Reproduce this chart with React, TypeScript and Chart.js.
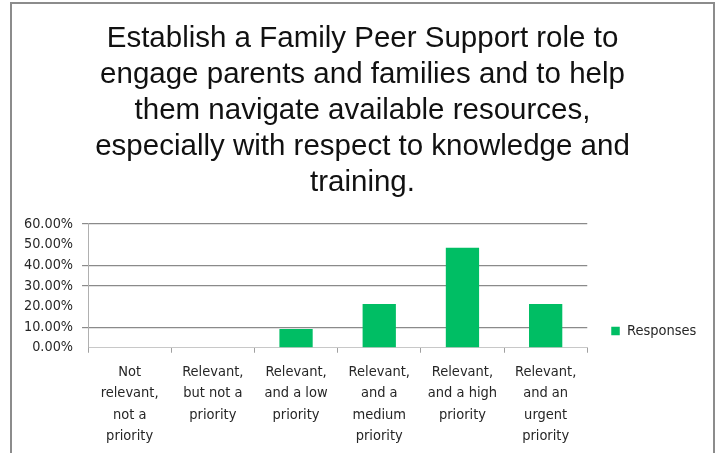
import React, { useEffect, useRef } from 'react';
import { Chart, registerables } from 'chart.js';

Chart.register(...registerables);

const titleLines = [
  'Establish a Family Peer Support role to',
  'engage parents and families and to help',
  'them navigate available resources,',
  'especially with respect to knowledge and',
  'training.',
];

const categories = [
  ['Not', 'relevant,', 'not a', 'priority'],
  ['Relevant,', 'but not a', 'priority'],
  ['Relevant,', 'and a low', 'priority'],
  ['Relevant,', 'and a', 'medium', 'priority'],
  ['Relevant,', 'and a high', 'priority'],
  ['Relevant,', 'and an', 'urgent', 'priority'],
];

const seriesName = 'Responses';
const responses = [0, 0, 9.09, 21.21, 48.48, 21.21];

const yMin = 0;
const yMax = 60;
const yStep = 10;
const hiddenGridValues = [0, 20, 50];

const FONT = "'DejaVu Sans Condensed', 'Liberation Sans Narrow', 'Liberation Sans', sans-serif";
const TITLE_FONT = "'Liberation Sans', Arial, sans-serif";
const GREEN = '#00BE64';
const GRID = '#8a8a8a';
const TEXT = '#262626';

const legendShift = {
  id: 'legendShift',
  afterLayout(chart: any, _args: any, opts: any) {
    const l = chart.legend;
    if (!l) return;
    const dx = opts?.dx || 0;
    const dy = opts?.dy || 0;
    l.left += dx;
    l.right += dx;
    l.top += dy;
    l.bottom += dy;
  },
};

export default function App() {
  const ref = useRef<HTMLCanvasElement | null>(null);

  useEffect(() => {
    if (!ref.current) return;
    const chart = new Chart(ref.current, {
      type: 'bar',
      data: {
        labels: categories,
        datasets: [
          {
            label: seriesName,
            data: responses,
            backgroundColor: GREEN,
            borderWidth: 0,
            categoryPercentage: 1,
            barPercentage: 0.4,
          },
        ],
      },
      plugins: [legendShift],
      options: {
        animation: false,
        responsive: false,
        maintainAspectRatio: false,
        layout: { padding: { left: 5, right: 5, top: 10, bottom: 2 } },
        plugins: {
          title: {
            display: true,
            text: titleLines,
            color: '#111',
            font: { family: TITLE_FONT, size: 29.5, weight: 'normal', lineHeight: 1.22 },
            padding: { top: 10.5, bottom: 23.5 },
          },
          legend: {
            display: true,
            position: 'right',
            align: 'end',
            fullSize: false,
            labels: {
              boxWidth: 8.5,
              boxHeight: 8.5,
              color: TEXT,
              font: { family: FONT, size: 14.5 },
              padding: 27.6,
            },
          },
          legendShift: { dx: -3.6, dy: 18 },
          tooltip: { enabled: false },
        } as any,
        scales: {
          x: {
            grid: {
              offset: true,
              drawOnChartArea: false,
              drawTicks: true,
              tickLength: 5,
              color: '#a0a0a0',
            },
            border: { display: true, color: '#c8c8c8' },
            ticks: {
              color: TEXT,
              font: { family: FONT, size: 14.5, lineHeight: 1.47 },
              padding: 9,
              maxRotation: 0,
              autoSkip: false,
            },
          },
          y: {
            min: yMin,
            max: yMax,
            ticks: {
              stepSize: yStep,
              autoSkip: false,
              color: TEXT,
              font: { family: FONT, size: 14.3 },
              padding: 9,
              callback: (v: any) => Number(v).toFixed(2) + '%',
            },
            grid: {
              drawTicks: true,
              tickLength: 6,
              color: (ctx: any) => {
                const v = ctx && ctx.tick ? Number(ctx.tick.value) : yMin + (ctx?.index ?? 0) * yStep;
                return hiddenGridValues.some((h) => Math.abs(h - v) < 1e-6) ? 'rgba(0,0,0,0)' : GRID;
              },
              lineWidth: 1.2,
            },
            border: { display: true, color: '#b0b0b0' },
          },
        },
      },
    });
    return () => chart.destroy();
  }, []);

  return (
    <div style={{ position: 'fixed', left: 0, top: 0, width: 715, height: 453, background: '#fff', overflow: 'hidden' }}>
      <div
        style={{
          position: 'absolute',
          left: 10,
          top: 2,
          width: 701,
          height: 470,
          border: '2px solid #8c8c8c',
          borderBottom: 'none',
        }}
      />
      <canvas ref={ref} width={705} height={458} style={{ position: 'absolute', left: 10, top: 0 }} />
    </div>
  );
}
